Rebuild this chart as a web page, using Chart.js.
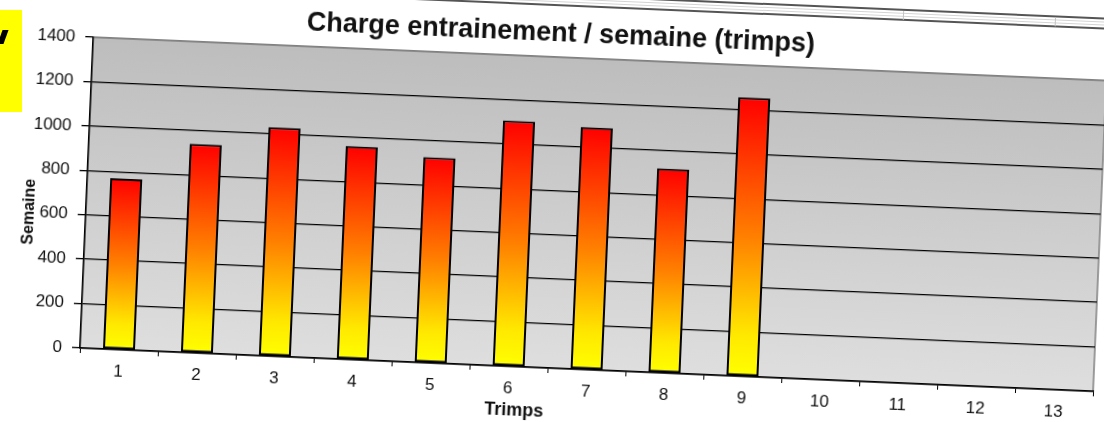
<!DOCTYPE html>
<html>
<head>
<meta charset="utf-8">
<script src="https://cdn.jsdelivr.net/npm/chart.js@4/dist/chart.umd.min.js"></script>
<style>
  html, body { margin: 0; padding: 0; background: #fff; overflow: hidden; }
  body { width: 1104px; height: 422px; position: relative; }
  /* la photo est légèrement penchée */
  #frame { position: absolute; left: 0; top: 0; width: 1104px; height: 422px;
           transform: rotate(2.45deg); transform-origin: 80px 348px; }
  #frame canvas { position: absolute; left: 0; top: 0; }
  .sheet-line { position: absolute; left: 360px; width: 800px; height: 1.5px; background: #555; }
  .sheet-light { position: absolute; left: 360px; width: 800px; height: 1px; background: #d4d4d4; }
  .sheet-div { position: absolute; width: 1px; height: 9px; top: -24px; background: #c4c4c4; }
  #tag { position: absolute; left: 0; top: 10px; width: 22px; height: 102px; background: #ffff00; }
  #tag span { position: absolute; left: 0; top: 20px; width: 6px; height: 14px; background: #000; transform: skewX(-20deg); }
</style>
</head>
<body>
<div id="frame">
  <div class="sheet-line" style="top:-26px"></div>
  <div class="sheet-light" style="top:-22px"></div>
  <div class="sheet-light" style="top:-19px"></div>
  <div class="sheet-line" style="top:-16px"></div>
  <div class="sheet-div" style="left:888px"></div>
  <div class="sheet-div" style="left:1040px"></div>
  <canvas id="chargeChart" width="1104" height="422"></canvas>
</div>
<div id="tag"><span></span></div>

<script>
// Données
const semaines = ['1', '2', '3', '4', '5', '6', '7', '8', '9', '10', '11', '12', '13'];
const trimps = [770, 940, 1030, 960, 925, 1105, 1090, 920, 1255, null, null, null, null];
const yMin = 0;
const yMax = 1400;
const yStep = 200;

const titre = 'Charge entrainement / semaine (trimps)';
const titreX = 'Trimps';
const titreY = 'Semaine';

const police = "'Liberation Sans', Arial, sans-serif";
const texte = '#111';

// Fond gris dégradé de la zone de tracé
const fondPlot = {
    id: 'fondPlot',
    beforeDraw(chart) {
        const { ctx, chartArea: a } = chart;
        const g = ctx.createLinearGradient(0, a.top, 0, a.bottom);
        g.addColorStop(0, '#bdbdbd');
        g.addColorStop(1, '#dedede');
        ctx.save();
        ctx.fillStyle = g;
        ctx.fillRect(a.left, a.top, a.right - a.left, a.bottom - a.top);
        ctx.strokeStyle = '#808080';
        ctx.lineWidth = 1.5;
        ctx.strokeRect(a.left, a.top, a.right - a.left, a.bottom - a.top);
        ctx.restore();
    }
};

// Titres des axes (placés comme dans Excel, pas au centre exact)
const titresAxes = {
    id: 'titresAxes',
    afterDraw(chart) {
        const { ctx, chartArea: a, scales } = chart;
        ctx.save();
        ctx.fillStyle = texte;
        ctx.textAlign = 'center';
        ctx.textBaseline = 'middle';
        ctx.font = 'bold 18px ' + police;
        ctx.fillText(titreX, scales.x.getPixelForValue(5) + 7, a.bottom + 44);
        ctx.font = 'bold 16px ' + police;
        ctx.translate(24, a.top + 177);
        ctx.rotate(-Math.PI / 2);
        ctx.fillText(titreY, 0, 0);
        ctx.restore();
    }
};

function degradeBarre(c) {
    const y = c.chart.scales.y;
    if (!y || c.raw == null) return '#ff4000';
    const haut = y.getPixelForValue(c.raw);
    const bas = y.getPixelForValue(0);
    if (!isFinite(haut) || !isFinite(bas)) return '#ff4000';
    const g = c.chart.ctx.createLinearGradient(0, haut, 0, bas);
    g.addColorStop(0, '#ff0000');
    g.addColorStop(0.5, '#ff8000');
    g.addColorStop(0.85, '#ffe800');
    g.addColorStop(1, '#ffff00');
    return g;
}

const ctx = document.getElementById('chargeChart').getContext('2d');
new Chart(ctx, {
    type: 'bar',
    data: {
        labels: semaines,
        datasets: [{
            label: 'Trimps',
            data: trimps,
            backgroundColor: degradeBarre,
            borderColor: '#000',
            borderWidth: 2,
            borderSkipped: false,
            barPercentage: 0.41,
            categoryPercentage: 1
        }]
    },
    options: {
        responsive: false,
        animation: false,
        devicePixelRatio: 1,
        layout: { padding: { left: 0, right: 10, top: 0, bottom: 0 } },
        plugins: {
            legend: { display: false },
            tooltip: { enabled: false },
            title: {
                display: true,
                text: titre,
                color: texte,
                font: { family: police, size: 27, weight: 'bold', lineHeight: 1 },
                padding: { top: 0, bottom: 10 }
            }
        },
        scales: {
            x: {
                afterFit(scale) { scale.height = 74; },
                grid: {
                    offset: true,
                    drawOnChartArea: false,
                    drawTicks: true,
                    tickLength: 5,
                    color: '#000'
                },
                border: { display: true, color: '#000', width: 1.5 },
                ticks: {
                    color: texte,
                    padding: 7,
                    maxRotation: 0,
                    autoSkip: false,
                    font: { family: police, size: 17 }
                }
            },
            y: {
                min: yMin,
                max: yMax,
                afterFit(scale) { scale.width = 80; },
                grid: {
                    color: c => (c.tick && c.tick.value === yMax) ? '#808080' : '#000',
                    lineWidth: 1.3,
                    drawTicks: true,
                    tickLength: 8,
                    tickColor: '#000'
                },
                border: { display: true, color: '#000', width: 1.5 },
                ticks: {
                    stepSize: yStep,
                    color: texte,
                    padding: 10,
                    font: { family: police, size: 17 },
                    callback: v => String(v)
                }
            }
        }
    },
    plugins: [fondPlot, titresAxes]
});
</script>
</body>
</html>
